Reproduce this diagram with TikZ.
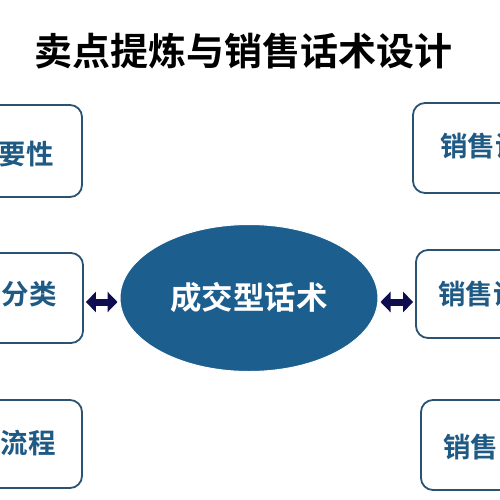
\documentclass[tikz,border=0pt]{standalone}
\usepackage{fontspec}
\setmainfont{Noto Sans CJK SC}[BoldFont={Noto Sans CJK SC Bold}]
\usetikzlibrary{arrows.meta,shapes.geometric}
\definecolor{boxline}{HTML}{2A5373}
\definecolor{boxtext}{HTML}{1F5A85}
\definecolor{ellfill}{HTML}{1C5E8E}
\definecolor{arrowc}{HTML}{0D0D4F}
\tikzset{
  sidebox/.style={draw=boxline, line width=1.8pt, rounded corners=12pt, fill=white, inner sep=0pt},
  sidetext/.style={text=boxtext, font=\fontsize{27.5}{27.5}\selectfont\bfseries, inner sep=0pt},
  dblarrow/.style={draw=arrowc, line width=7pt, {Triangle[length=10pt,width=20pt]}-{Triangle[length=10pt,width=20pt]}, shorten >=2pt, shorten <=2pt},
}
\begin{document}
\begin{tikzpicture}[x=1pt,y=-1pt]
\useasboundingbox (0,0) rectangle (500,500);
\clip (0,0) rectangle (500,500);
\fill[white] (0,0) rectangle (500,500);
\node[font=\fontsize{38}{38}\selectfont\bfseries, inner sep=0pt] (title) at (243,51) {卖点提炼与销售话术设计};
% left boxes
\node[sidebox, minimum width=104pt, minimum height=92pt] (l1) at (30,151) {};
\node[sidebox, minimum width=104pt, minimum height=90pt] (l2) at (31,298) {};
\node[sidebox, minimum width=104pt, minimum height=88pt] (l3) at (30,444) {};
% right boxes
\node[sidebox, minimum width=110pt, minimum height=90pt] (r1) at (468,148) {};
\node[sidebox, minimum width=110pt, minimum height=88pt] (r2) at (471,294) {};
\node[sidebox, minimum width=110pt, minimum height=90pt] (r3) at (476,445) {};
% texts
\node[sidetext, anchor=east] (t1) at (54,154) {要性};
\node[sidetext, anchor=east] (t2) at (57,294) {分类};
\node[sidetext, anchor=east] (t3) at (56,443) {流程};
\node[sidetext, anchor=west] (t4) at (440,146) {销售话};
\node[sidetext, anchor=west] (t5) at (438,294) {销售话};
\node[sidetext, anchor=west] (t6) at (443,447) {销售};
% ellipse
\node[ellipse, fill=ellfill, draw=white, line width=1pt, minimum width=258pt, minimum height=147pt, inner sep=0pt, text=white, font=\fontsize{31.5}{31.5}\selectfont\bfseries] (c) at (249,298) {成交型话术};
% arrows
\draw[dblarrow] (l2.east |- 0,302) coordinate (a1) -- (a1 -| c.west);
\draw[dblarrow] (c.east |- 0,302) coordinate (a2) -- (a2 -| r2.west);
\end{tikzpicture}
\end{document}
